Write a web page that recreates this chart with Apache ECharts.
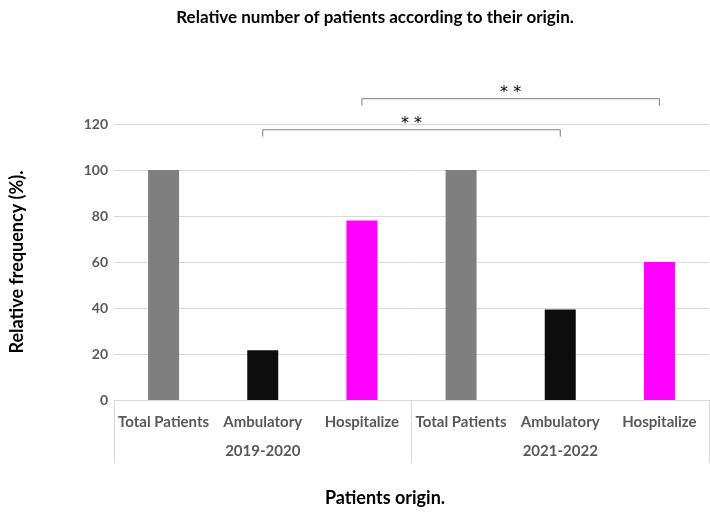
<!DOCTYPE html>
<html>
<head>
<meta charset="utf-8">
<script src="https://cdn.jsdelivr.net/npm/echarts@6/dist/echarts.min.js"></script>
<style>
  html, body { margin: 0; padding: 0; background: #fff; }
  #chart { width: 710px; height: 512px; }
</style>
</head>
<body>
<div id="chart"></div>
<script>
  // 数据
  var categories = ['Total Patients', 'Ambulatory', 'Hospitalize', 'Total Patients', 'Ambulatory', 'Hospitalize'];
  var periods = ['2019-2020', '2021-2022'];
  var values = [100, 21.6, 78, 100, 39.4, 60];
  var barColors = ['#7f7f7f', '#0d0d0d', '#ff00ff', '#7f7f7f', '#0d0d0d', '#ff00ff'];
  // 显著性括号: [起点类别, 终点类别, 高度(%), 文字]
  var brackets = [
    [1, 4, 117.5, '* *'],
    [2, 5, 131, '* *']
  ];

  var font = 'Lato, "Open Sans", sans-serif';
  var chart = echarts.init(document.getElementById('chart'));

  var barData = values.map(function (v, i) {
    return { value: v, itemStyle: { color: barColors[i] } };
  });

  chart.setOption({
    animation: false,
    textStyle: { fontFamily: font },
    title: [
      {
        text: 'Relative number of patients according to their origin.',
        left: 370, top: 4, textAlign: 'center',
        textStyle: { fontFamily: font, fontSize: 17, fontWeight: 'bold', color: '#000' }
      },
      {
        text: 'Patients origin.',
        left: 380, top: 484, textAlign: 'center',
        textStyle: { fontFamily: font, fontSize: 18, fontWeight: 'bold', color: '#000' }
      }
    ],
    grid: { left: 111, right: 1, top: 124, bottom: 112 },
    xAxis: [
      {
        type: 'category',
        data: categories,
        axisLine: { lineStyle: { color: '#d9d9d9' } },
        axisTick: { show: false },
        axisLabel: { color: '#595959', fontWeight: 'bold', fontSize: 15, margin: 15, interval: 0, fontFamily: font }
      },
      {
        type: 'category',
        data: periods,
        position: 'bottom',
        axisLine: { show: false },
        axisTick: { show: true, length: 63, lineStyle: { color: '#d9d9d9' } },
        axisLabel: { color: '#595959', fontWeight: 'bold', fontSize: 15, margin: 44, fontFamily: font }
      }
    ],
    yAxis: {
      type: 'value',
      min: 0, max: 120, interval: 20,
      name: 'Relative frequency (%).',
      nameLocation: 'middle',
      nameRotate: 90,
      nameGap: 88,
      nameTextStyle: { fontFamily: font, fontSize: 18, fontWeight: 'bold', color: '#000' },
      axisLine: { show: false },
      axisTick: { show: false },
      axisLabel: { color: '#595959', fontWeight: 'bold', fontSize: 14, margin: 6, fontFamily: font },
      splitLine: { lineStyle: { color: '#d9d9d9' } }
    },
    series: [
      {
        type: 'bar',
        data: barData,
        barWidth: 31,
        itemStyle: { borderColor: 'rgba(0,0,0,0)' }
      },
      {
        type: 'custom',
        clip: false,
        data: brackets,
        renderItem: function (params, api) {
          var a = api.coord([api.value(0), api.value(2)]);
          var b = api.coord([api.value(1), api.value(2)]);
          var drop = 7;
          return {
            type: 'group',
            children: [
              {
                type: 'polyline',
                shape: { points: [[a[0], a[1] + drop], a, b, [b[0], b[1] + drop]] },
                style: { stroke: '#7f7f7f', lineWidth: 1, fill: null }
              },
              {
                type: 'text',
                style: {
                  x: (a[0] + b[0]) / 2, y: a[1] - 6,
                  text: brackets[params.dataIndex][3],
                  align: 'center', verticalAlign: 'middle',
                  font: '16px "DejaVu Sans"', fill: '#000'
                }
              }
            ]
          };
        }
      }
    ]
  });
</script>
</body>
</html>
